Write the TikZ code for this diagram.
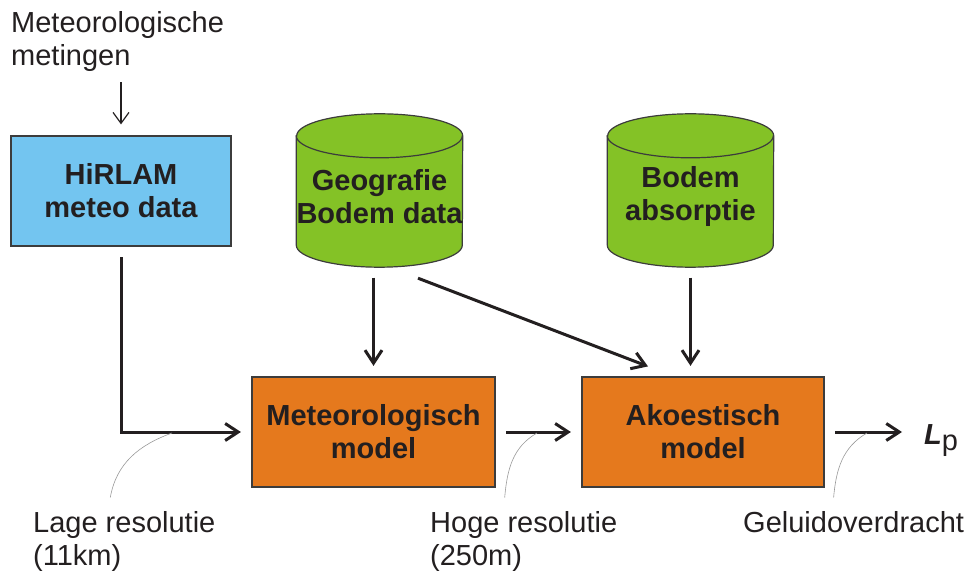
\documentclass[tikz,border=0pt]{standalone}
\usepackage{fontspec}
\setmainfont{Liberation Sans}
\usetikzlibrary{arrows.meta, backgrounds}
\definecolor{inkcol}{RGB}{35,31,32}
\definecolor{edgecol}{RGB}{60,60,60}
\definecolor{hirlamblue}{RGB}{115,197,240}
\definecolor{dbgreen}{RGB}{132,194,38}
\definecolor{modelorange}{RGB}{229,121,29}
\newcommand\bigfont{\fontsize{29}{33}\selectfont}
\newcommand\toplift{\rule{0pt}{34pt}}

\begin{document}
\begin{tikzpicture}[x=1pt, y=1pt,
  txt/.style={inner sep=0pt, align=left, text=inkcol, font=\bigfont},
  box/.style={draw=edgecol, line width=1.2pt, minimum height=110pt, align=center,
    text=inkcol, font=\bigfont\bfseries},
  db/.style={inner sep=0pt, minimum width=166pt, minimum height=153pt, align=center,
    text=inkcol, font=\bigfont\bfseries},
  dbline/.style={draw=edgecol, line width=1.2pt},
  flow/.style={draw=inkcol, line width=3pt, -{Straight Barb[length=13pt,width=17pt]},
    shorten <=10.5pt, shorten >=10.5pt},
  thinflow/.style={draw=inkcol, line width=1.2pt, -{Straight Barb[length=11pt,width=16pt]},
    shorten <=10.5pt, shorten >=11pt},
  pointer/.style={draw=gray!80, line width=0.6pt}]
\useasboundingbox (0,0) rectangle (975,571);

% inputs
\node[txt, anchor=north west] (metingen) at (11,559.5) {Meteorologische\\metingen};
\node[box, fill=hirlamblue, minimum width=220pt] (hirlam) at (121,380) {HiRLAM\\meteo data};
\node[db] (geo) at (379.5,380.5) {\toplift Geografie\\Bodem data};
\node[db] (absorptie) at (690.5,380.5) {\toplift Bodem\\absorptie};

% cylinders behind the database texts
\begin{scope}[on background layer]
\foreach \dbname in {geo, absorptie} {
  \path[dbline, fill=dbgreen] ([yshift=-22pt]\dbname.north west) -- ([yshift=22pt]\dbname.south west)
    arc[start angle=180, end angle=360, x radius=83pt, y radius=22pt]
    -- ([yshift=-22pt]\dbname.north east)
    arc[start angle=0, end angle=180, x radius=83pt, y radius=22pt] -- cycle;
  \draw[dbline] ([yshift=-22pt]\dbname.north west)
    arc[start angle=180, end angle=360, x radius=83pt, y radius=22pt];
}
\end{scope}

% models
\node[box, fill=modelorange, minimum width=243pt] (meteo) at (373.5,139) {Meteorologisch\\model};
\node[box, fill=modelorange, minimum width=242pt] (akoest) at (703,139) {Akoestisch\\model};
\node[txt, anchor=north west] (lp) at (924,147) {\textbf{\textit{L}}\raisebox{-6pt}{p}};

% labels under the arrows
\node[txt, anchor=north west] (lage) at (33,59.5) {Lage resolutie\\(11km)};
\node[txt, anchor=north west] (hoge) at (430,59.5) {Hoge resolutie\\(250m)};
\node[txt, anchor=north west] (gelu) at (743,59.5) {Geluidoverdracht};
\coordinate (lagept) at (172,138);
\coordinate (hogept) at (537,138);
\coordinate (gelupt) at (867,138);

\draw[thinflow] (metingen.south -| hirlam.north) -- (hirlam.north);
\draw[flow] (hirlam.south) |- (meteo.west);
\draw[flow] (meteo.north |- geo.south) -- (meteo.north);
\draw[flow, shorten <=0pt, shorten >=0pt] ([shift={(38.5pt,-11pt)}]geo.south) -- ([shift={(-55pt,10pt)}]akoest.north);
\draw[flow] (absorptie.south) -- (absorptie.south |- akoest.north);
\draw[flow] (meteo.east) -- (akoest.west);
\draw[flow, shorten >=22pt] (akoest.east) -- (akoest.east -| lp.west);

\draw[pointer] ([shift={(-14pt,14pt)}]lage.north) to[out=80, in=200] (lagept);
\draw[pointer] ([shift={(-19pt,14pt)}]hoge.north) to[out=85, in=210] (hogept);
\draw[pointer] ([shift={(-20pt,14pt)}]gelu.north) to[out=85, in=210] (gelupt);
\end{tikzpicture}
\end{document}
